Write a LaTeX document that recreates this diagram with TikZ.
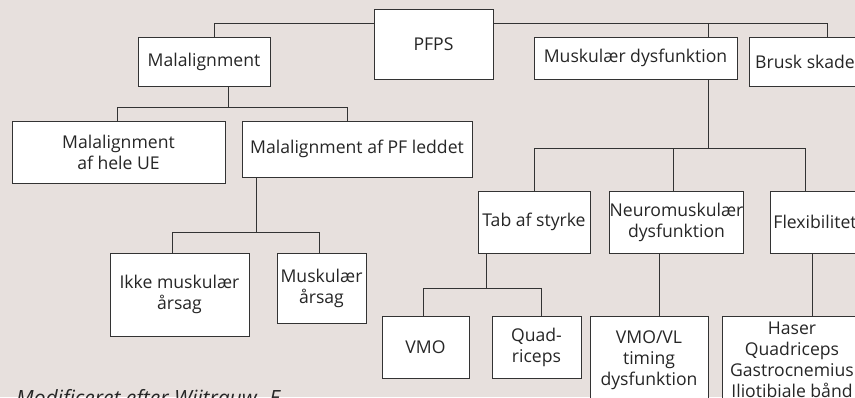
\documentclass[tikz,border=0pt]{standalone}
\usepackage{fontspec}
\setmainfont{Open Sans}
\definecolor{bg}{HTML}{E7E0DD}
\definecolor{ln}{HTML}{333333}
\begin{document}
\begin{tikzpicture}[x=1pt,y=-1pt,
  box/.style={draw=ln,fill=white,line width=0.9pt,inner sep=0pt,align=center,
    font=\fontsize{17.6}{21}\selectfont,text=black!85},
  conn/.style={draw=ln,line width=0.9pt}]
\useasboundingbox (0,0) rectangle (855,397);
\fill[bg] (0,0) rectangle (855,397);
% nodes
\node[box,minimum width=119pt,minimum height=70pt] (PFPS) at (433.5,44) {PFPS};
\node[box,minimum width=132pt,minimum height=49pt] (Mal) at (204,61.5) {Malalignment};
\node[box,minimum width=203pt,minimum height=42pt] (MusD) at (635.5,58) {Muskulær dysfunktion};
\node[box,minimum width=112pt,minimum height=49pt] (Brusk) at (805,61.5) {Brusk skade};
\node[box,minimum width=213pt,minimum height=62pt] (MalUE) at (118.5,152) {Malalignment\\af hele UE};
\node[box,minimum width=230pt,minimum height=56pt] (MalPF) at (357,149) {Malalignment af PF leddet};
\node[box,minimum width=139pt,minimum height=83pt] (Ikke) at (179.5,294.5) {Ikke muskulær\\årsag};
\node[box,minimum width=89pt,minimum height=70pt] (MuskA) at (321.5,288) {Muskulær\\årsag};
\node[box,minimum width=112pt,minimum height=62pt] (Tab) at (534,222) {Tab af styrke};
\node[box,minimum width=133pt,minimum height=62pt] (Neuro) at (676.5,222) {Neuromuskulær\\dysfunktion};
\node[box,minimum width=90pt,minimum height=62pt] (Flex) at (815,222) {Flexibilitet};
\node[box,minimum width=87pt,minimum height=62pt] (VMO) at (425.5,347) {VMO};
\node[box,minimum width=89pt,minimum height=62pt] (Quad) at (536.5,347) {Quad-\\riceps};
\node[box,minimum width=118pt,minimum height=88pt] (VMOVL) at (649,360) {VMO/VL\\timing\\dysfunktion};
\node[box,minimum width=140pt,minimum height=88pt] (Haser) at (792,360) {Haser\\Quadriceps\\Gastrocnemius\\Iliotibiale bånd};
\node[anchor=base west,inner sep=0pt,font=\fontsize{21}{25}\selectfont\itshape,text=black!85] (cap) at (16,405) {Modificeret efter Wiitrauw. E};
% junction coordinates
\coordinate (a1) at (214,23);
\coordinate (a2) at (708,23);
\coordinate (a3) at (827,23);
\coordinate (m0) at (228,107);
\coordinate (m1) at (117,107);
\coordinate (m2) at (347,107);
\coordinate (p0) at (256,232);
\coordinate (p1) at (172,232);
\coordinate (p2) at (319,232);
\coordinate (d0) at (708,148);
\coordinate (d1) at (534,148);
\coordinate (d2) at (673,148);
\coordinate (d3) at (805,148);
\coordinate (t0) at (486,288);
\coordinate (t1) at (423,288);
\coordinate (t2) at (541,288);
\coordinate (n0) at (659,300);
\coordinate (f0) at (812,300);
% connectors
\draw[conn] (PFPS.west|-a1) -- (a1) -- (a1|-Mal.north);
\draw[conn] (PFPS.east|-a1) -- (a3) -- (a3|-Brusk.north);
\draw[conn] (a2) -- (a2|-MusD.north);
\draw[conn] (m0|-Mal.south) -- (m0);
\draw[conn] (m1|-MalUE.north) -- (m1) -- (m2) -- (m2|-MalPF.north);
\draw[conn] (p0|-MalPF.south) -- (p0);
\draw[conn] (p1|-Ikke.north) -- (p1) -- (p2) -- (p2|-MuskA.north);
\draw[conn] (d0|-MusD.south) -- (d0);
\draw[conn] (d1|-Tab.north) -- (d1) -- (d3) -- (d3|-Flex.north);
\draw[conn] (d2) -- (d2|-Neuro.north);
\draw[conn] (t0|-Tab.south) -- (t0);
\draw[conn] (t1|-VMO.north) -- (t1) -- (t2) -- (t2|-Quad.north);
\draw[conn] (n0|-Neuro.south) -- (n0|-VMOVL.north);
\draw[conn] (f0|-Flex.south) -- (f0|-Haser.north);
\end{tikzpicture}
\end{document}
